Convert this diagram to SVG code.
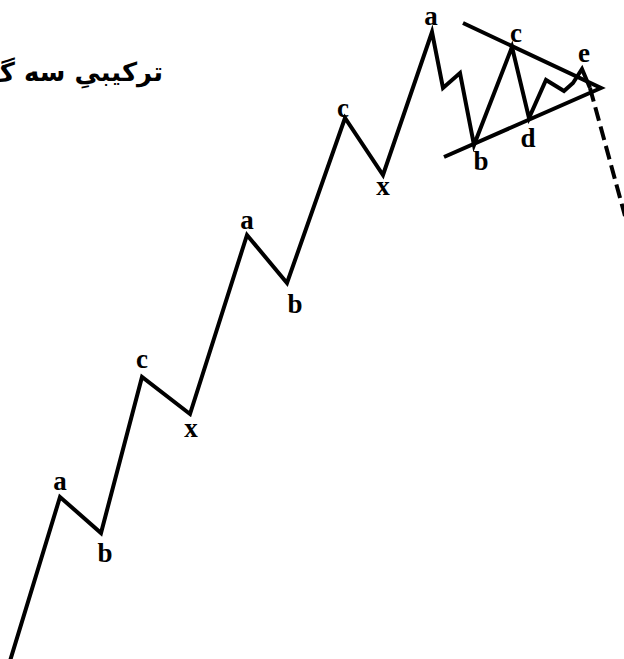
<svg xmlns="http://www.w3.org/2000/svg" width="624" height="659" viewBox="0 0 624 659">
<style>
.w{fill:none;stroke:#000;stroke-width:4;stroke-linejoin:miter;stroke-miterlimit:10}
.d{fill:none;stroke:#000;stroke-width:4;stroke-dasharray:14 6}
.l{font-family:"Liberation Serif","Times New Roman",serif;font-weight:bold;font-size:27px;fill:#000;text-anchor:middle}
.t{font-family:"DejaVu Sans",sans-serif;font-weight:bold;font-size:26px;fill:#000}
</style>
<rect width="624" height="659" fill="#fff"/>
<g id="title"><text class="t" x="163" y="81" text-anchor="end">ترکیبیِ سه گ</text></g>
<g id="connectors">
<polyline class="w" points="10,661 60,497 101,533 142,377 190,414 247,235 287,283 345,118 383,175 432,32 443,88 460,73 474,145 512,47 529,118 546,80 564,91 573,83 582,69 590,88"/>
<line class="d" x1="590" y1="88" x2="625" y2="216"/>
<polyline class="w" points="463,23 601,88 444,157"/>
</g>
<g id="labels">
<text class="l" x="60" y="490">a</text>
<text class="l" x="105" y="562">b</text>
<text class="l" x="142" y="368">c</text>
<text class="l" x="191" y="437">x</text>
<text class="l" x="247" y="229">a</text>
<text class="l" x="295" y="313">b</text>
<text class="l" x="343" y="117">c</text>
<text class="l" x="383" y="195">x</text>
<text class="l" x="431" y="25">a</text>
<text class="l" x="481" y="170">b</text>
<text class="l" x="516" y="42">c</text>
<text class="l" x="528" y="147">d</text>
<text class="l" x="584" y="62">e</text>
</g>
</svg>
